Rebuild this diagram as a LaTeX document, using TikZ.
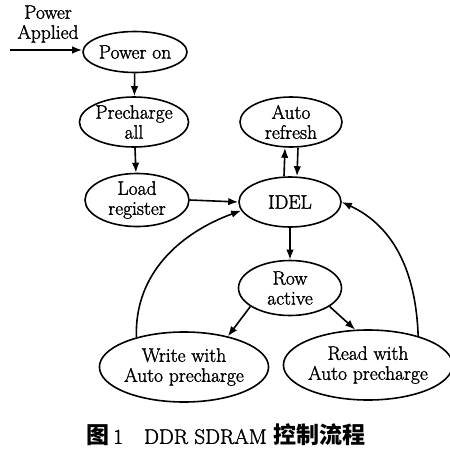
\documentclass[tikz,border=0pt]{standalone}
\usepackage{fontspec}
\setmainfont{Latin Modern Roman}[FakeBold=1.6]
\newfontfamily\cjk{Noto Sans CJK SC}
\usetikzlibrary{shapes.geometric,arrows.meta}

\begin{document}
\begin{tikzpicture}[x=1pt, y=-1pt, line width=1.6pt,
    state/.style={draw, ellipse, inner sep=0pt, align=center,
      font=\fontsize{19.5}{20}\selectfont},
    flow/.style={-{Latex[length=10pt,width=7.5pt]}}]
        \useasboundingbox (0,0) rectangle (450,451);

        % Define the states
        \node[state, minimum width=104, minimum height=41] (pon) at (135,52) {Power on};
        \node[state, minimum width=98, minimum height=50] (pre) at (134,122) {Precharge\\all};
        \node[state, minimum width=104, minimum height=50] (load) at (137,200) {Load\\register};
        \node[state, minimum width=102, minimum height=50] (auto) at (291,122) {Auto\\refresh};
        \node[state, minimum width=102, minimum height=50] (idel) at (290,202) {IDEL};
        \node[state, minimum width=103, minimum height=55] (row) at (290,288) {Row\\active};
        \node[state, minimum width=142, minimum height=70] (wr) at (184,367) {Write with\\Auto precharge};
        \node[state, minimum width=139, minimum height=70] (rd) at (368,365) {Read with\\Auto precharge};

        % Power applied input
        \node[align=center, font=\fontsize{19.5}{20}\selectfont] (pwr) at (48,24) {Power\\Applied};
        \coordinate (pin) at (10,50);
        \draw[flow] (pin) -- (pon.west |- pin);

        % Draw the transitions
        \draw[flow] (pon) -- (pre);
        \draw[flow] (pre) -- (load);
        \draw[flow] (load.east) -- (idel.west);
        \draw[flow] ([xshift=-6]idel.north) -- ([xshift=-6]auto.south);
        \draw[flow] ([xshift=7]auto.south) -- ([xshift=7]idel.north);
        \draw[flow] (idel) -- (row);
        \draw[flow] (row.205) -- (wr.35);
        \draw[flow] (row.335) -- (rd.110);
        \draw[flow] (wr.148) to[out=92, in=200] (idel.190);
        \draw[flow] (rd.30) to[out=92, in=-25] (idel.east);

        % Caption
        \node (cap) at (226,435) {\fontsize{23}{23}\selectfont\cjk\bfseries 图\fontsize{21}{21}\selectfont\rmfamily\mdseries\,1\quad DDR SDRAM \fontsize{23}{23}\selectfont\cjk\bfseries 控制流程};
      \end{tikzpicture}
\end{document}
